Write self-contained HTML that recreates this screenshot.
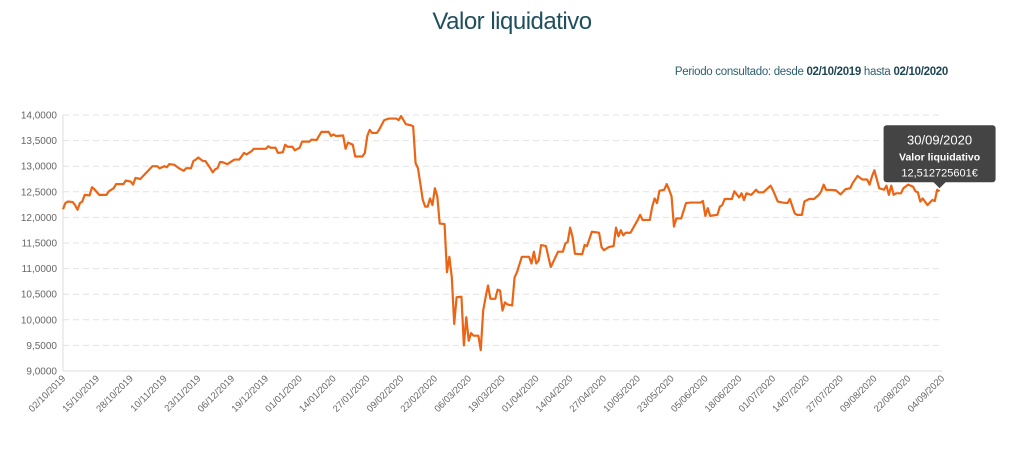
<!DOCTYPE html>
<html><head><meta charset="utf-8">
<style>
body{margin:0;width:1024px;height:457px;background:#fff;font-family:"Liberation Sans",sans-serif;overflow:hidden;position:relative}
#title{position:absolute;left:0;width:1024px;top:8px;text-align:center;font-size:24px;color:#1f4f5f;letter-spacing:-0.5px}
#period{position:absolute;right:76px;top:66px;font-size:11.5px;color:#2f5f70;letter-spacing:-0.3px}
#period b{color:#1f4654}
svg{position:absolute;left:0;top:0}
</style></head><body>
<div id="title">Valor liquidativo</div>
<div id="period">Periodo consultado: desde <b>02/10/2019</b> hasta <b>02/10/2020</b></div>
<svg id="chart" width="1024" height="457"></svg>
<script>
const yTicks=[9,9.5,10,10.5,11,11.5,12,12.5,13,13.5,14];
const yTickLabels=["9,0000","9,5000","10,0000","10,5000","11,0000","11,5000","12,0000","12,5000","13,0000","13,5000","14,0000"];
const xTickLabels=["02/10/2019","15/10/2019","28/10/2019","10/11/2019","23/11/2019","06/12/2019","19/12/2019","01/01/2020","14/01/2020","27/01/2020","09/02/2020","22/02/2020","06/03/2020","19/03/2020","01/04/2020","14/04/2020","27/04/2020","10/05/2020","23/05/2020","05/06/2020","18/06/2020","01/07/2020","14/07/2020","27/07/2020","09/08/2020","22/08/2020","04/09/2020","17/09/2020","30/09/2020"].slice(0,27).concat([]);
const navPoints=[[0,12.16],[1,12.28],[2,12.31],[4,12.30],[5,12.24],[6,12.15],[7,12.28],[8,12.31],[9,12.44],[11,12.43],[12,12.59],[13,12.55],[15,12.44],[18,12.44],[19,12.51],[21,12.57],[22,12.65],[25,12.65],[26,12.72],[28,12.70],[29,12.64],[30,12.77],[32,12.75],[35,12.90],[37,13.00],[39,13.00],[40,12.96],[42,13.00],[43,12.98],[44,13.04],[46,13.03],[48,12.96],[50,12.91],[51,12.96],[53,12.96],[54,13.10],[55,13.13],[56,13.17],[58,13.10],[59,13.10],[61,12.96],[62,12.88],[63,12.94],[64,12.96],[65,13.08],[66,13.08],[68,13.04],[71,13.13],[73,13.13],[75,13.26],[76,13.23],[78,13.29],[79,13.34],[84,13.34],[85,13.39],[86,13.36],[88,13.36],[89,13.26],[91,13.27],[92,13.42],[93,13.38],[95,13.38],[96,13.31],[98,13.36],[99,13.48],[101,13.48],[102,13.48],[103,13.52],[105,13.51],[106,13.59],[107,13.67],[110,13.67],[111,13.59],[112,13.62],[113,13.59],[116,13.60],[117,13.34],[118,13.46],[120,13.42],[121,13.19],[124,13.19],[125,13.26],[126,13.59],[127,13.71],[128,13.65],[130,13.65],[131,13.72],[133,13.90],[135,13.93],[138,13.93],[139,13.90],[140,13.98],[142,13.82],[144,13.80],[145,13.78],[146,13.06],[147,12.96],[149,12.34],[150,12.21],[151,12.21],[152,12.37],[153,12.24],[154,12.57],[155,12.41],[156,11.88],[158,11.87],[159,10.93],[160,11.23],[161,10.83],[162,9.92],[163,10.44],[165,10.45],[166,9.50],[167,10.05],[168,9.59],[169,9.74],[170,9.69],[171,9.69],[172,9.69],[173,9.41],[174,10.18],[175,10.44],[176,10.67],[177,10.41],[179,10.41],[180,10.59],[181,10.57],[182,10.18],[183,10.34],[184,10.30],[186,10.28],[187,10.83],[188,10.93],[190,11.23],[193,11.23],[194,11.10],[195,11.33],[196,11.10],[197,11.16],[198,11.46],[200,11.44],[201,11.23],[202,11.03],[204,11.23],[205,11.33],[207,11.33],[208,11.49],[209,11.52],[210,11.80],[211,11.62],[212,11.29],[215,11.28],[216,11.46],[217,11.44],[219,11.72],[222,11.70],[223,11.42],[224,11.36],[226,11.42],[228,11.44],[229,11.80],[230,11.63],[231,11.75],[232,11.65],[233,11.70],[235,11.70],[238,11.95],[239,12.05],[240,11.95],[243,11.95],[244,12.21],[245,12.37],[246,12.28],[247,12.52],[249,12.54],[250,12.65],[251,12.54],[252,12.41],[253,11.82],[254,11.98],[256,11.98],[258,12.28],[260,12.29],[264,12.29],[265,12.32],[266,12.03],[267,12.18],[268,12.03],[271,12.05],[272,12.21],[273,12.24],[274,12.36],[277,12.36],[278,12.51],[280,12.39],[281,12.47],[282,12.34],[283,12.47],[285,12.44],[287,12.54],[288,12.49],[290,12.49],[293,12.62],[294,12.53],[296,12.31],[298,12.29],[300,12.28],[301,12.36],[303,12.08],[304,12.05],[306,12.05],[307,12.31],[309,12.36],[311,12.36],[313,12.44],[314,12.51],[315,12.64],[316,12.54],[320,12.53],[322,12.45],[324,12.55],[326,12.57],[327,12.67],[329,12.81],[331,12.74],[333,12.74],[334,12.64],[335,12.80],[336,12.92],[338,12.57],[340,12.54],[341,12.62],[342,12.44],[343,12.62],[344,12.44],[345,12.47],[347,12.47],[348,12.57],[350,12.64],[352,12.60],[353,12.51],[354,12.49],[355,12.31],[356,12.37],[358,12.24],[359,12.29],[360,12.34],[361,12.32],[362,12.54],[363,12.51]];
const tooltipDate="30/09/2020", tooltipSeries="Valor liquidativo", tooltipValue="12,512725601€";

const NS="http://www.w3.org/2000/svg";
const svg=document.getElementById('chart');
const L=63,R=942,T=115,B=371,DAYS=364,YMIN=9,YMAX=14;
const xs=d=>L+(R-L)*d/DAYS;
const ys=v=>B-(B-T)*(v-YMIN)/(YMAX-YMIN);
function mk(t,a){const e=document.createElementNS(NS,t);for(const k in a)e.setAttribute(k,a[k]);svg.appendChild(e);return e;}
yTicks.forEach((v,i)=>{
  if(i>0){const g=mk('line',{x1:L,x2:R,y1:ys(v),y2:ys(v),stroke:'#e3e3e3','stroke-dasharray':'6,4','stroke-width':1});
  
  }
  const t=mk('text',{x:L-6,y:ys(v)+3.5,'text-anchor':'end','font-size':10,fill:'#666'});
  t.textContent=yTickLabels[i];
  
  
});
const ax=mk('line',{x1:L,x2:R,y1:B,y2:B,stroke:'#ddd'});


const ay=mk('line',{x1:L,x2:L,y1:T,y2:B,stroke:'#ddd'});


const n=xTickLabels.length;
xTickLabels.forEach((s,i)=>{
  const x=L+(R-L)*i/(n-1);
  const t=mk('text',{x:x+3,y:B+8,'text-anchor':'end','font-size':9.5,fill:'#666',transform:`rotate(-45 ${x+3} ${B+8})`});
  t.textContent=s;
  
  
});
const p=mk('polyline',{points:navPoints.map(q=>xs(q[0])+','+ys(q[1])).join(' '),fill:'none',stroke:'#ec6515','stroke-width':2.2,'stroke-linejoin':'round'});


// tooltip
const last=navPoints[navPoints.length-1];
const px=xs(last[0]), py=ys(last[1]);
const tg=mk('path',{d:`M${px-53},${py-66} h106 a3,3 0 0 1 3,3 v51 a3,3 0 0 1 -3,3 h-47 l-6,6 l-6,-6 h-47 a3,3 0 0 1 -3,-3 v-51 a3,3 0 0 1 3,-3z`,fill:'#444'});


[[tooltipDate,13,py-47],[tooltipSeries,10.5,py-31],[tooltipValue,11,py-15]].forEach((r,i)=>{
  const t=mk('text',{x:px,y:r[2],'text-anchor':'middle','font-size':r[1],fill:'#fff','font-weight':i==1?'bold':'normal'});
  t.textContent=r[0];
  
  
});
</script>
</body></html>
